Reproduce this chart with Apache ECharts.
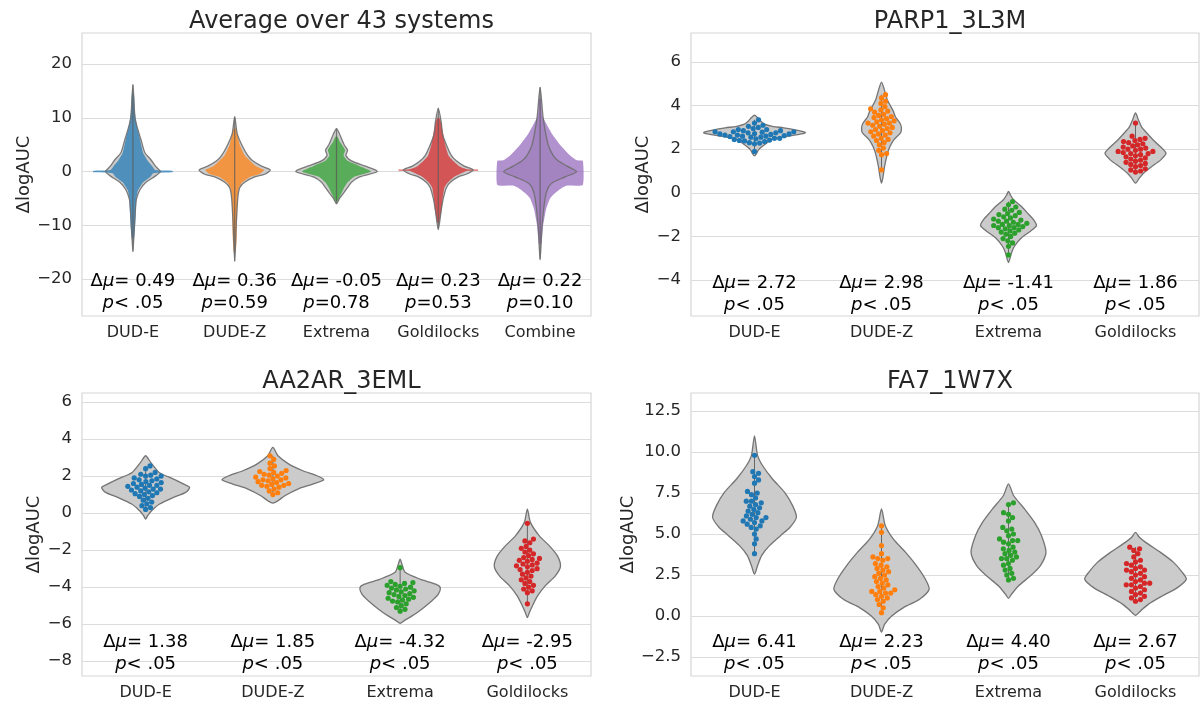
<!DOCTYPE html>
<html>
<head>
<meta charset="utf-8">
<script src="https://cdn.jsdelivr.net/npm/echarts@6/dist/echarts.min.js"></script>
<style>
  html, body { margin: 0; background: #fff; }
  #main { width: 1201px; height: 706px; }
</style>
</head>
<body>
<div id="main"></div>
<script>
// categories and labels
const cats4 = ['DUD-E', 'DUDE-Z', 'Extrema', 'Goldilocks'];
const cats5 = ['DUD-E', 'DUDE-Z', 'Extrema', 'Goldilocks', 'Combine'];
const palette = ['#1f77b4', '#ff7f0e', '#2ca02c', '#d62728', '#9467bd'];
const titles = ['Average over 43 systems', 'PARP1_3L3M', 'AA2AR_3EML', 'FA7_1W7X'];

const yTicks = [
  [-20, -10, 0, 10, 20],
  [-4, -2, 0, 2, 4, 6],
  [-8, -6, -4, -2, 0, 2, 4, 6],
  [-2.5, 0, 2.5, 5, 7.5, 10, 12.5]
];
const yRanges = [[-26.9, 25.8], [-5.65, 7.33], [-8.8, 6.49], [-3.66, 13.6]];

const deltaMu = [
  ['0.49', '0.36', '-0.05', '0.23', '0.22'],
  ['2.72', '2.98', '-1.41', '1.86'],
  ['1.38', '1.85', '-4.32', '-2.95'],
  ['6.41', '2.23', '4.40', '2.67']
];
const pText = [
  ['< .05', '=0.59', '=0.78', '=0.53', '=0.10'],
  ['< .05', '< .05', '< .05', '< .05'],
  ['< .05', '< .05', '< .05', '< .05'],
  ['< .05', '< .05', '< .05', '< .05']
];
const annotY = [-22.3, -4.59, -7.54, -2.23];

// violin outlines: [value, half width as share of category band]
const avgViolins = [
  [[16.2,0],[10,0.02],[8.4,0.04],[6.5,0.07],[5.9,0.08],[3.5,0.118],[2.2,0.177],[0.9,0.226],[0,0.27],[-0.9,0.216],[-2,0.128],[-3.4,0.069],[-5.2,0.034],[-7,0.025],[-10,0.015],[-14.9,0]],
  [[10.2,0],[7,0.025],[5,0.069],[3,0.128],[2,0.177],[1,0.265],[0.3,0.35],[-0.5,0.295],[-1,0.196],[-2,0.098],[-3,0.049],[-5,0.03],[-10,0.015],[-16.7,0]],
  [[8,0],[7,0.03],[5,0.075],[4,0.108],[3,0.093],[2,0.147],[1,0.285],[0,0.40],[-1,0.226],[-2,0.147],[-3,0.108],[-4,0.069],[-5,0.03],[-6,0]],
  [[11.8,0],[9,0.03],[7,0.04],[5,0.079],[3,0.128],[2,0.177],[1,0.255],[0.3,0.344],[-0.5,0.275],[-1,0.196],[-2,0.118],[-3,0.079],[-5,0.049],[-7,0.03],[-10.8,0]],
  [[15.7,0],[10,0.03],[5,0.079],[3,0.128],[2,0.177],[1,0.265],[0,0.358],[-1,0.246],[-2,0.128],[-3,0.079],[-5,0.049],[-10,0.02],[-16.4,0]]
];
// outline of the dense swarm cloud in the averaged panel
const avgClouds = [
  [[14.5,0.01],[11,0.02],[8,0.045],[6,0.07],[3.5,0.1],[2,0.145],[1,0.19],[0.3,0.22],[0.15,0.39],[-0.15,0.39],[-0.3,0.2],[-1,0.17],[-2,0.1],[-3.5,0.05],[-5,0.035],[-8,0.028],[-11,0.02],[-12.5,0.01]],
  [[8,0.01],[7,0.025],[5,0.05],[3,0.1],[1,0.21],[0.3,0.29],[-0.5,0.24],[-1,0.15],[-2,0.075],[-3,0.042],[-5,0.028],[-8,0.024],[-12,0.02],[-15,0.01]],
  [[6.5,0.01],[5.5,0.035],[4,0.085],[3,0.07],[2,0.11],[1,0.23],[0,0.34],[-1,0.17],[-2,0.11],[-3,0.075],[-4,0.05],[-5,0.025],[-5.5,0.01]],
  [[10,0.01],[9,0.028],[7,0.05],[5,0.068],[3,0.1],[2,0.145],[1,0.205],[0.45,0.28],[0.4,0.39],[0.15,0.39],[0.1,0.28],[-1,0.155],[-2,0.095],[-3,0.06],[-5,0.043],[-7,0.035],[-8.5,0.02],[-9.5,0.01]],
  [[13.5,0.01],[10.5,0.02],[9,0.059],[7,0.118],[5,0.196],[3,0.295],[2.1,0.36],[2,0.42],[-2.5,0.42],[-2.6,0.27],[-3,0.216],[-4,0.147],[-5,0.098],[-7,0.059],[-10,0.03],[-12,0.02],[-13.5,0.01]]
];

const parpViolins = [
  [[3.56,0],[3.45,0.024],[3.3,0.047],[3.15,0.079],[3.05,0.14],[2.98,0.23],[2.88,0.33],[2.8,0.39],[2.75,0.40],[2.68,0.35],[2.57,0.23],[2.45,0.14],[2.3,0.10],[2.1,0.055],[1.96,0.03],[1.8,0.016],[1.69,0]],
  [[5.08,0],[4.7,0.024],[4.24,0.047],[3.78,0.09],[3.48,0.11],[3.2,0.145],[2.98,0.157],[2.75,0.15],[2.42,0.095],[2.1,0.065],[1.81,0.047],[1.2,0.024],[0.74,0.012],[0.44,0]],
  [[0.06,0],[-0.1,0.015],[-0.32,0.04],[-0.62,0.10],[-0.93,0.15],[-1.23,0.197],[-1.5,0.22],[-1.76,0.173],[-2.07,0.10],[-2.45,0.047],[-2.75,0.024],[-3.2,0]],
  [[3.66,0],[3.33,0.024],[3.0,0.05],[2.8,0.08],[2.42,0.14],[2.11,0.197],[1.81,0.24],[1.5,0.197],[1.2,0.126],[0.9,0.063],[0.67,0.03],[0.44,0]]
];
const aa2arViolins = [
  [[3.1,0],[2.74,0.04],[2.2,0.106],[1.84,0.22],[1.57,0.30],[1.39,0.346],[1.12,0.315],[0.85,0.22],[0.49,0.11],[0.13,0.047],[-0.14,0.016],[-0.32,0]],
  [[3.55,0],[3.1,0.04],[2.65,0.126],[2.29,0.236],[2.02,0.346],[1.8,0.40],[1.57,0.315],[1.3,0.197],[0.94,0.094],[0.67,0.04],[0.54,0]],
  [[-2.49,0],[-2.8,0.016],[-3.2,0.04],[-3.57,0.157],[-3.84,0.28],[-4.02,0.315],[-4.38,0.30],[-4.74,0.25],[-5.19,0.17],[-5.55,0.094],[-5.82,0.03],[-5.95,0]],
  [[0.22,0],[-0.5,0.024],[-1.23,0.094],[-1.77,0.173],[-2.31,0.236],[-2.88,0.26],[-3.39,0.22],[-3.93,0.14],[-4.47,0.08],[-5.0,0.04],[-5.37,0.016],[-5.64,0]]
];
const fa7Violins = [
  [[10.98,0],[9.8,0.024],[9.18,0.063],[8.37,0.14],[7.55,0.236],[6.73,0.30],[6.02,0.33],[5.41,0.28],[4.9,0.205],[4.29,0.118],[3.67,0.055],[3.06,0.024],[2.55,0]],
  [[6.53,0],[5.51,0.03],[4.69,0.094],[3.88,0.19],[3.06,0.276],[2.24,0.346],[1.63,0.375],[1.02,0.30],[0.51,0.173],[0,0.08],[-0.51,0.024],[-0.98,0]],
  [[8.06,0],[7.35,0.04],[6.53,0.126],[5.71,0.205],[4.9,0.26],[3.88,0.295],[3.06,0.25],[2.45,0.173],[1.84,0.08],[1.33,0.024],[1.08,0]],
  [[5.1,0],[4.8,0.03],[4.49,0.08],[3.88,0.197],[3.27,0.30],[2.65,0.37],[2.24,0.40],[1.73,0.33],[1.22,0.21],[0.71,0.10],[0.31,0.04],[0.04,0]]
];

// swarm points (one value per system run)
const parpPoints = [
  [3.35,3.2,3.1,3.05,3.0,2.95,2.9,2.9,2.85,2.85,2.8,2.8,2.8,2.78,2.75,2.75,2.72,2.7,2.7,2.68,2.65,2.65,2.62,2.6,2.6,2.58,2.55,2.55,2.5,2.5,2.48,2.45,2.42,2.4,2.38,2.35,2.3,2.28,2.25,1.9],
  [4.5,4.35,4.2,4.1,3.95,3.85,3.8,3.75,3.7,3.6,3.55,3.5,3.45,3.4,3.35,3.3,3.25,3.2,3.2,3.15,3.1,3.05,3.0,2.95,2.9,2.85,2.8,2.75,2.7,2.65,2.6,2.5,2.45,2.4,2.3,2.2,2.05,1.95,1.8,1.75,1.05],
  [-0.4,-0.55,-0.65,-0.75,-0.8,-0.9,-0.95,-1.0,-1.05,-1.1,-1.15,-1.2,-1.25,-1.3,-1.3,-1.35,-1.4,-1.45,-1.45,-1.5,-1.5,-1.55,-1.6,-1.6,-1.65,-1.7,-1.75,-1.8,-1.85,-1.9,-2.0,-2.1,-2.2,-2.3,-2.45,-2.85],
  [3.2,2.6,2.5,2.45,2.4,2.35,2.3,2.25,2.2,2.15,2.1,2.05,2.0,2.0,1.95,1.9,1.9,1.85,1.8,1.8,1.75,1.7,1.65,1.6,1.55,1.5,1.45,1.4,1.35,1.3,1.25,1.2,1.1,1.05,1.0,0.95]
];
const aa2arPoints = [
  [2.55,2.4,2.2,2.1,2.05,2.0,2.0,1.9,1.85,1.8,1.75,1.7,1.65,1.6,1.55,1.5,1.5,1.45,1.4,1.35,1.3,1.3,1.25,1.2,1.15,1.1,1.05,1.0,0.95,0.9,0.8,0.7,0.6,0.5,0.4,0.3,0.2],
  [3.1,2.9,2.7,2.55,2.4,2.3,2.25,2.2,2.15,2.1,2.05,2.0,1.95,1.9,1.85,1.8,1.8,1.75,1.7,1.65,1.6,1.55,1.5,1.5,1.45,1.4,1.3,1.2,1.1,1.0],
  [-2.95,-3.7,-3.75,-3.8,-3.85,-3.9,-3.95,-4.0,-4.05,-4.1,-4.15,-4.2,-4.25,-4.3,-4.35,-4.4,-4.45,-4.5,-4.55,-4.6,-4.65,-4.7,-4.75,-4.8,-4.9,-5.0,-5.1,-5.2,-5.3],
  [-0.55,-1.4,-1.5,-1.6,-1.8,-1.9,-2.0,-2.1,-2.2,-2.3,-2.4,-2.45,-2.5,-2.55,-2.6,-2.7,-2.75,-2.8,-2.85,-2.9,-3.0,-3.05,-3.1,-3.2,-3.3,-3.4,-3.5,-3.6,-3.7,-3.8,-3.9,-4.0,-4.1,-4.2,-4.3,-4.9]
];
const fa7Points = [
  [9.8,8.8,8.7,8.5,8.3,8.1,7.6,7.5,7.4,7.2,7.0,7.0,6.9,6.8,6.7,6.6,6.5,6.4,6.3,6.2,6.1,6.0,6.0,5.9,5.8,5.8,5.7,5.6,5.5,5.4,5.3,5.0,4.7,4.4,3.8],
  [5.5,5.1,4.3,3.8,3.6,3.5,3.5,3.4,3.2,3.1,3.0,2.9,2.8,2.7,2.6,2.5,2.4,2.3,2.2,2.1,2.0,1.9,1.8,1.7,1.6,1.5,1.5,1.4,1.4,1.3,1.2,1.1,1.0,0.9,0.7,0.5,0.2],
  [6.9,6.8,6.3,6.2,6.0,5.8,5.4,5.3,5.2,5.0,4.9,4.7,4.6,4.6,4.5,4.4,4.2,4.1,4.0,3.9,3.8,3.7,3.6,3.5,3.5,3.4,3.2,3.1,2.9,2.8,2.6,2.5,2.3,2.2],
  [4.2,4.1,4.0,3.8,3.6,3.4,3.3,3.2,3.1,3.0,2.9,2.8,2.8,2.7,2.6,2.5,2.4,2.3,2.2,2.1,2.0,2.0,1.9,1.9,1.8,1.7,1.6,1.5,1.4,1.3,1.2,1.1,1.0,0.9]
];

const panelViolins = [avgViolins, parpViolins, aa2arViolins, fa7Violins];
const panelPoints = [null, parpPoints, aa2arPoints, fa7Points];
const panelCats = [cats5, cats4, cats4, cats4];

const FONT = 'DejaVu Sans';
const INK = '#262626';
const gridBoxes = [
  { left: 82, top: 33, width: 509, height: 283 },
  { left: 691, top: 33, width: 508, height: 283 },
  { left: 82, top: 393, width: 509, height: 283 },
  { left: 691, top: 393, width: 508, height: 283 }
];
const nameGaps = [39, 36, 39, 38];

function outline(api, cat, profile) {
  const band = api.size([1, 0])[0];
  const left = [], right = [];
  profile.forEach(function (d) {
    const c = api.coord([cat, d[0]]);
    left.push([c[0] - d[1] * band, c[1]]);
    right.push([c[0] + d[1] * band, c[1]]);
  });
  right.reverse();
  const pts = left.concat(right);
  return pts.filter(function (p, i) {
    const q = pts[(i + pts.length - 1) % pts.length];
    return Math.abs(p[0] - q[0]) > 0.01 || Math.abs(p[1] - q[1]) > 0.01;
  });
}

function centerLine(api, cat, top, bottom, style) {
  const a = api.coord([cat, top]), b = api.coord([cat, bottom]);
  return { type: 'line', shape: { x1: a[0], y1: a[1], x2: b[0], y2: b[1] }, style: style };
}

// beeswarm offsets in pixels
function swarm(values, pxPerUnit, d) {
  const order = values.map(function (v, i) { return i; }).sort(function (a, b) { return values[a] - values[b]; });
  const placed = [];
  const offs = [];
  order.forEach(function (i) {
    const y = values[i] * pxPerUnit;
    const near = placed.filter(function (p) { return Math.abs(p.y - y) < d; });
    const cands = [0];
    near.forEach(function (p) {
      const dx = Math.sqrt(d * d - (p.y - y) * (p.y - y));
      cands.push(p.x + dx, p.x - dx);
    });
    cands.sort(function (a, b) { return Math.abs(a) - Math.abs(b); });
    const x = cands.find(function (cx) {
      return near.every(function (p) { return (p.x - cx) * (p.x - cx) + (p.y - y) * (p.y - y) >= d * d - 0.01; });
    });
    placed.push({ x: x, y: y });
    offs[i] = x;
  });
  return offs;
}

const swarmCache = {};

const grid = [], xAxis = [], yAxis = [], series = [], title = [];

for (let p = 0; p < 4; p++) {
  const g = gridBoxes[p];
  grid.push(Object.assign({ show: true, borderColor: '#d6d6d6', borderWidth: 1.2, backgroundColor: 'transparent' }, g));
  title.push({
    text: titles[p],
    left: g.left + g.width / 2,
    top: g.top - 28,
    textAlign: 'center',
    textStyle: { fontFamily: FONT, fontSize: 24, fontWeight: 'normal', color: INK }
  });
  xAxis.push({
    gridIndex: p, type: 'category', data: panelCats[p],
    axisLine: { show: false }, axisTick: { show: false }, splitLine: { show: false },
    axisLabel: { fontFamily: FONT, fontSize: 16, color: INK, margin: 9, interval: 0 }
  });
  yAxis.push({
    gridIndex: p, type: 'value', min: yRanges[p][0], max: yRanges[p][1],
    name: 'ΔlogAUC', nameLocation: 'middle', nameGap: nameGaps[p],
    nameTextStyle: { fontFamily: FONT, fontSize: 18, color: INK },
    axisLine: { show: false },
    axisTick: { show: false, customValues: yTicks[p] },
    axisLabel: {
      customValues: yTicks[p], fontFamily: FONT, fontSize: 16.5, color: INK, margin: 10,
      formatter: function (v) { return (p === 3 ? Number(v).toFixed(1) : String(v)).replace('-', '\u2212'); }
    },
    splitLine: { show: true, lineStyle: { color: '#dcdcdc', width: 1.2 } }
  });

  // violins
  series.push({
    type: 'custom', xAxisIndex: p, yAxisIndex: p, silent: true, z: 2,
    data: panelCats[p].map(function (c, i) { return [i, 0]; }),
    encode: { x: 0, y: 1 },
    renderItem: function (params, api) {
      const i = params.dataIndex;
      const prof = panelViolins[p][i];
      const shape = outline(api, i, prof);
      const top = prof[0][0], bottom = prof[prof.length - 1][0];
      if (p === 0) {
        return { type: 'group', children: [
          { type: 'polygon', shape: { points: shape, smooth: 0.25 }, style: { fill: '#cbcbcb', stroke: null } },
          { type: 'polygon', shape: { points: outline(api, i, avgClouds[i]), smooth: 0.15 }, style: { fill: palette[i], opacity: 0.72 } },
          centerLine(api, i, top, bottom, { stroke: '#5a5a5a', lineWidth: 1.2, opacity: 0.75 }),
          { type: 'polygon', shape: { points: shape, smooth: 0.25 }, style: { fill: null, stroke: '#6e6e6e', lineWidth: 1.3, opacity: 0.9 } }
        ] };
      }
      const vals = panelPoints[p][i];
      return { type: 'group', children: [
        { type: 'polygon', shape: { points: shape, smooth: 0.25 }, style: { fill: '#cbcbcb', stroke: '#747474', lineWidth: 1.3 } },
        centerLine(api, i, Math.max.apply(null, vals), Math.min.apply(null, vals), { stroke: '#666666', lineWidth: 1 })
      ] };
    }
  });

  // swarm points
  if (panelPoints[p]) {
    const pts = [];
    panelPoints[p].forEach(function (vals, i) {
      vals.forEach(function (v, k) { pts.push([i, v, k]); });
    });
    series.push({
      type: 'custom', xAxisIndex: p, yAxisIndex: p, silent: true, z: 3,
      data: pts, encode: { x: 0, y: 1 },
      renderItem: function (params, api) {
        const i = api.value(0), v = api.value(1), k = api.value(2);
        const key = p + '_' + i;
        if (!swarmCache[key]) swarmCache[key] = swarm(panelPoints[p][i], api.size([0, 1])[1], 5.2);
        const c = api.coord([i, v]);
        return { type: 'circle', shape: { cx: c[0] + swarmCache[key][k], cy: c[1], r: 2.6 }, style: { fill: palette[i] } };
      }
    });
  }

  // Δμ / p annotations
  series.push({
    type: 'custom', xAxisIndex: p, yAxisIndex: p, silent: true, z: 4,
    data: panelCats[p].map(function (c, i) { return [i, annotY[p]]; }),
    encode: { x: 0, y: 1 },
    renderItem: function (params, api) {
      const i = params.dataIndex;
      const c = api.coord([i, annotY[p]]);
      return {
        type: 'text',
        style: {
          x: c[0], y: c[1] + 1, align: 'center', verticalAlign: 'middle',
          text: '{n|Δ}{i|μ}{n|= ' + deltaMu[p][i] + '}\n{i|p}{n|' + pText[p][i] + '}',
          rich: {
            n: { fontFamily: FONT, fontSize: 18, color: INK, lineHeight: 22 },
            i: { fontFamily: FONT, fontSize: 18, color: INK, fontStyle: 'italic', lineHeight: 22 }
          }
        }
      };
    }
  });
}

const chart = echarts.init(document.getElementById('main'), null, { renderer: 'canvas' });
chart.setOption({
  animation: false,
  backgroundColor: '#ffffff',
  title: title,
  grid: grid,
  xAxis: xAxis,
  yAxis: yAxis,
  series: series
});
</script>
</body>
</html>
